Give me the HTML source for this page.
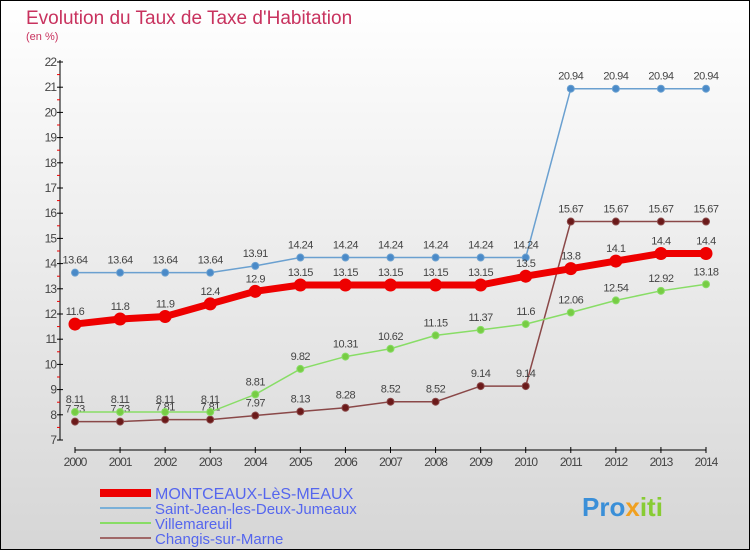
<!DOCTYPE html>
<html><head><meta charset="utf-8"><style>
body{margin:0;width:750px;height:550px;overflow:hidden;font-family:"Liberation Sans",sans-serif}
svg{display:block}
</style></head><body>
<svg width="750" height="550" xmlns="http://www.w3.org/2000/svg">
<defs><linearGradient id="bg" x1="0" y1="0" x2="0" y2="1"><stop offset="0" stop-color="#ffffff"/><stop offset="1" stop-color="#d6d6d6"/></linearGradient></defs>
<rect x="0.5" y="0.5" width="749" height="549" fill="url(#bg)" stroke="#000"/>
<text x="26" y="24" font-size="19" fill="#c8325e">Evolution du Taux de Taxe d'Habitation</text>
<text x="26" y="40" font-size="11" fill="#c8325e">(en %)</text>
<g id="axes"></g><g id="series"></g>
<g>
<rect x="100" y="489" width="51" height="8" fill="#e00"/>
<text x="155" y="499" font-size="16" fill="#5566ee">MONTCEAUX-LèS-MEAUX</text>
<rect x="100" y="507" width="51" height="2" fill="#7ab0d8"/>
<text x="155" y="514" font-size="15" fill="#5566ee">Saint-Jean-les-Deux-Jumeaux</text>
<rect x="100" y="522" width="51" height="2" fill="#88dd66"/>
<text x="155" y="529" font-size="15" fill="#5566ee">Villemareuil</text>
<rect x="100" y="537" width="51" height="2" fill="#a06868"/>
<text x="155" y="544" font-size="15" fill="#5566ee">Changis-sur-Marne</text>
</g>
<text x="582" y="516" font-size="26" font-weight="bold" fill="#3a8fd8">Pro<tspan fill="#f0a020">x</tspan><tspan fill="#88cc33">iti</tspan></text>
</svg>
<script>
const years=[2000,2001,2002,2003,2004,2005,2006,2007,2008,2009,2010,2011,2012,2013,2014];
const yTicks=[7,8,9,10,11,12,13,14,15,16,17,18,19,20,21,22];
const montceaux=[11.6,11.8,11.9,12.4,12.9,13.15,13.15,13.15,13.15,13.15,13.5,13.8,14.1,14.4,14.4];
const saintJean=[13.64,13.64,13.64,13.64,13.91,14.24,14.24,14.24,14.24,14.24,14.24,20.94,20.94,20.94,20.94];
const villemareuil=[8.11,8.11,8.11,8.11,8.81,9.82,10.31,10.62,11.15,11.37,11.6,12.06,12.54,12.92,13.18];
const changis=[7.73,7.73,7.81,7.81,7.97,8.13,8.28,8.52,8.52,9.14,9.14,15.67,15.67,15.67,15.67];
const NS="http://www.w3.org/2000/svg";
const X=i=>75+i*(631/14), Y=v=>440-(v-7)*25.2;
function mk(t,a,p){const e=document.createElementNS(NS,t);for(const k in a)e.setAttribute(k,a[k]);p.appendChild(e);return e;}
const ax=document.getElementById('axes');
let l=mk('line',{x1:60,y1:60,x2:60,y2:440,stroke:'#000'},ax);


l=mk('line',{x1:75,y1:450,x2:706,y2:450,stroke:'#000'},ax);


yTicks.forEach(v=>{mk('line',{x1:57,y1:Y(v),x2:63,y2:Y(v),stroke:'#000'},ax);
 if(v<22)mk('line',{x1:57,y1:Y(v+0.5),x2:60,y2:Y(v+0.5),stroke:'#e00'},ax);
 const t=mk('text',{x:56,y:Y(v)+4,'font-size':12,fill:'#444','text-anchor':'end','letter-spacing':'-1'},ax);t.textContent=v;
 
 });
years.forEach((yr,i)=>{mk('line',{x1:X(i),y1:447,x2:X(i),y2:453,stroke:'#000'},ax);
 const t=mk('text',{x:X(i),y:466,'font-size':12,fill:'#444','text-anchor':'middle','letter-spacing':'-1'},ax);t.textContent=yr;
 
 });
const sg=document.getElementById('series');
function draw(vals,col,w,r,dot,name){
 const g=mk('g',{},sg);
 
 
 mk('polyline',{points:vals.map((v,i)=>X(i)+','+Y(v)).join(' '),fill:'none',stroke:col,'stroke-width':w},g);
 vals.forEach((v,i)=>{const c=mk('circle',{cx:X(i),cy:Y(v),r:r,fill:dot,stroke:col,'stroke-width':1},g);
  
  
  const t=mk('text',{x:X(i),y:Y(v)-9,'font-size':11,fill:'#444','text-anchor':'middle','letter-spacing':'-0.5'},g);t.textContent=v;});
}
draw(changis,'#8a4848',1.5,3.5,'#6b1a1a','series-changis');
draw(villemareuil,'#88dd66',1.5,3.5,'#77cc44','series-villemareuil');
draw(saintJean,'#6aa0d0',1.5,3.5,'#4a8ac8','series-saint-jean');
draw(montceaux,'#ee0000',7,6,'#ee0000','series-montceaux');
</script>
</body></html>
